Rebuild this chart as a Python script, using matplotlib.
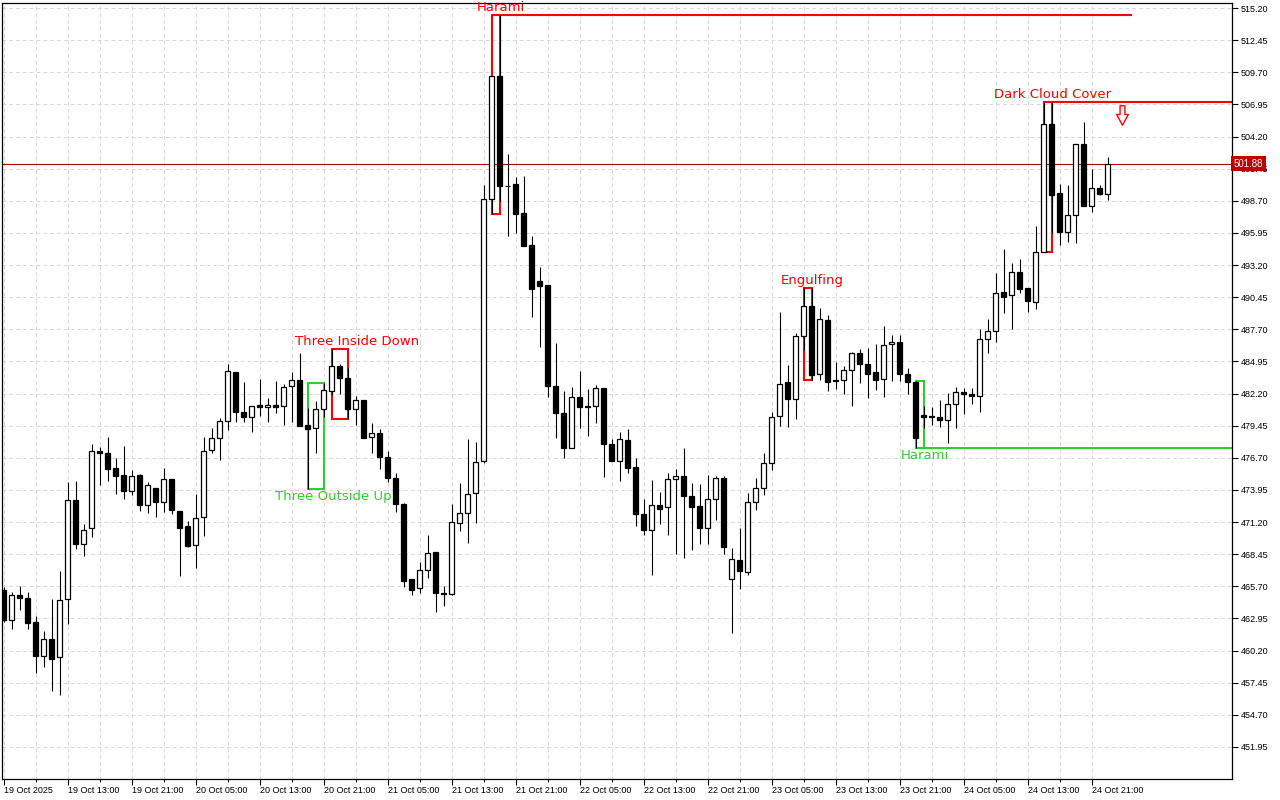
import matplotlib
matplotlib.use("Agg")
import matplotlib.pyplot as plt
import matplotlib.transforms as mtransforms
from matplotlib.patches import Rectangle
from matplotlib.path import Path
import numpy as np
import pandas as pd

# hourly candles, first bar 19 Oct 2025 05:00
start_time = "2025-10-19 05:00"

opens = [465.40, 462.83, 464.97, 464.71, 462.66, 459.75, 461.20, 459.67, 464.63, 473.10,
         469.33, 470.70, 477.29, 477.12, 475.83, 475.24, 473.87, 475.24, 472.67, 474.13,
         472.93, 474.89, 472.16, 470.87, 469.25, 471.64, 477.38, 478.41, 479.86, 484.05,
         480.63, 480.20, 481.23, 481.06, 481.23, 481.14, 482.85, 483.37, 479.52, 479.26,
         480.88, 482.43, 484.57, 483.54, 480.88, 481.66, 478.49, 478.83, 476.78, 474.98,
         472.75, 466.34, 465.57, 467.11, 468.65, 465.14, 465.08, 471.13, 471.99, 473.69,
         476.44, 498.86, 509.38, 499.97, 500.14, 497.66, 494.92, 491.84, 491.50, 482.85,
         480.55, 477.55, 481.91, 481.14, 481.14, 482.69, 477.89, 476.44, 478.23, 475.92,
         471.90, 470.53, 472.67, 472.50, 474.89, 475.15, 473.45, 472.58, 470.70, 473.19,
         474.98, 466.34, 467.97, 466.94, 472.93, 474.13, 476.27, 480.29, 483.20, 481.75,
         487.13, 489.70, 483.88, 488.50, 483.37, 483.37, 484.22, 485.68, 484.74, 484.05,
         483.45, 486.45, 486.62, 483.88, 483.20, 480.37, 480.29, 480.20, 479.94, 481.31,
         482.34, 482.17, 482.00, 486.88, 487.56, 490.90, 490.64, 492.61, 491.24, 490.05,
         494.32, 505.28, 499.37, 496.04, 497.48, 503.56, 498.26, 499.80, 499.29]

highs = [465.65, 465.23, 465.74, 465.23, 463.18, 461.89, 464.63, 467.03, 474.65, 474.73,
         471.05, 477.89, 477.64, 478.49, 476.70, 477.73, 475.66, 475.33, 474.65, 474.13,
         475.83, 474.89, 472.16, 471.31, 473.62, 478.49, 479.26, 480.11, 484.74, 484.05,
         483.20, 481.14, 483.45, 481.83, 483.28, 483.02, 484.05, 485.68, 480.97, 481.57,
         483.11, 486.02, 484.74, 484.39, 482.00, 481.66, 479.69, 479.17, 477.29, 475.41,
         472.84, 466.34, 467.80, 470.11, 468.65, 465.74, 472.75, 474.56, 478.32, 478.06,
         500.05, 509.38, 514.60, 502.69, 500.73, 500.81, 495.68, 493.03, 491.50, 486.53,
         482.43, 482.76, 484.14, 482.60, 482.94, 482.69, 478.32, 478.92, 479.17, 476.70,
         473.19, 474.81, 473.79, 475.41, 475.75, 477.55, 474.56, 474.47, 475.24, 475.15,
         475.15, 468.99, 470.70, 473.69, 474.98, 477.12, 480.63, 489.18, 484.65, 487.39,
         491.24, 491.24, 489.53, 488.92, 484.90, 484.57, 485.76, 486.02, 486.10, 486.45,
         487.98, 487.22, 487.22, 484.39, 483.28, 481.14, 481.06, 481.66, 482.25, 482.76,
         482.69, 482.69, 487.72, 488.59, 492.52, 494.58, 493.38, 493.71, 491.24, 496.54,
         507.15, 507.15, 500.13, 500.05, 503.56, 505.44, 501.42, 500.05, 502.45]

lows = [462.66, 462.05, 463.69, 462.05, 458.29, 458.81, 456.76, 456.41, 462.49, 468.91,
        468.31, 469.93, 474.39, 474.73, 473.62, 473.19, 473.53, 472.16, 471.99, 471.64,
        472.07, 471.90, 466.60, 469.08, 467.28, 470.02, 477.12, 476.53, 479.09, 479.77,
        479.77, 478.92, 480.29, 479.77, 480.55, 479.52, 479.77, 479.43, 474.04, 477.12,
        480.20, 482.08, 482.17, 480.03, 479.52, 478.41, 477.12, 475.75, 474.65, 472.07,
        465.65, 464.97, 465.14, 466.43, 463.51, 464.03, 464.97, 470.45, 469.42, 471.13,
        476.27, 497.56, 498.67, 495.68, 495.94, 494.83, 488.75, 486.19, 481.91, 478.41,
        476.70, 477.55, 479.26, 478.58, 479.69, 475.07, 476.44, 474.73, 475.41, 470.87,
        470.11, 466.69, 471.05, 470.11, 468.48, 468.14, 468.82, 469.33, 469.33, 471.39,
        468.48, 461.72, 465.49, 466.69, 472.25, 473.53, 475.66, 479.43, 479.35, 480.03,
        485.93, 483.37, 483.37, 482.43, 482.60, 482.17, 481.14, 483.11, 481.83, 482.51,
        481.91, 483.28, 483.28, 482.17, 477.55, 479.26, 479.52, 479.35, 477.97, 479.26,
        480.46, 481.31, 480.63, 485.68, 486.62, 489.10, 487.72, 490.80, 489.18, 489.44,
        494.32, 495.94, 494.92, 495.17, 495.08, 498.26, 497.74, 499.20, 498.77]

closes = [462.83, 464.97, 464.71, 462.57, 459.75, 461.20, 459.49, 464.54, 473.10, 469.33,
          470.53, 477.29, 477.12, 475.75, 475.15, 473.87, 475.15, 472.67, 474.39, 472.93,
          474.89, 472.25, 470.70, 469.17, 471.55, 477.29, 478.41, 479.86, 484.14, 480.63,
          480.20, 481.14, 481.06, 481.23, 481.06, 482.76, 483.37, 479.43, 479.17, 480.88,
          482.51, 484.57, 483.54, 480.88, 481.66, 478.41, 478.83, 476.78, 474.98, 472.75,
          466.17, 465.40, 467.11, 468.56, 465.14, 465.08, 471.22, 471.99, 473.62, 476.35,
          498.86, 509.38, 499.97, 499.94, 497.56, 494.83, 491.15, 491.41, 482.85, 480.55,
          477.55, 481.91, 481.06, 481.06, 482.69, 477.89, 476.44, 478.32, 475.83, 471.90,
          470.53, 472.67, 472.33, 474.89, 475.15, 473.45, 472.50, 470.70, 473.19, 474.98,
          469.08, 468.05, 467.03, 472.93, 474.13, 476.27, 480.20, 483.02, 481.75, 487.13,
          489.70, 483.79, 488.59, 483.20, 483.28, 484.22, 485.68, 484.74, 483.88, 483.37,
          486.36, 486.62, 483.88, 483.20, 478.41, 480.20, 480.20, 479.94, 481.31, 482.34,
          482.17, 482.00, 486.88, 487.56, 490.81, 490.47, 492.61, 491.15, 490.13, 494.32,
          505.28, 499.20, 496.04, 497.48, 503.56, 498.26, 499.80, 499.29, 501.88]

# candlestick patterns found by the indicator
pattern_names = ["Three Outside Up", "Three Inside Down", "Harami", "Engulfing", "Harami", "Dark Cloud Cover"]
pattern_first = [38, 41, 61, 100, 114, 130]
pattern_last = [40, 43, 62, 101, 115, 131]
pattern_bullish = [True, False, False, False, True, False]

# support / resistance levels drawn from some of the patterns
level_pattern = [2, 4, 5]
level_end = [141, None, None]

price_ticks = np.round(451.95 + 2.75 * np.arange(24), 2)

RED = "#ff0000"
GREEN = "#32cd32"

n = len(closes)
times = pd.date_range(start_time, periods=n, freq="h")

fig = plt.figure(figsize=(12.8, 8), dpi=100)
ax = fig.add_axes([2 / 1280, 21 / 800, 1230 / 1280, 776 / 800])
ax.set_xlim(-0.2, 153.55)
ax.set_ylim(449.21, 515.63)

# candles
for i in range(n):
    o, h, l, c = opens[i], highs[i], lows[i], closes[i]
    up = c >= o
    ax.vlines(i, l, h, color="black", lw=0.8, zorder=3)
    ax.add_patch(Rectangle((i - 0.3, min(o, c)), 0.6, abs(c - o),
                           facecolor="white" if up else "black",
                           edgecolor="black", lw=0.9, zorder=4))

# pattern boxes and labels
for k, name in enumerate(pattern_names):
    a, b = pattern_first[k], pattern_last[k]
    top = max(highs[a:b + 1])
    bot = min(lows[a:b + 1])
    col = GREEN if pattern_bullish[k] else RED
    ax.add_patch(Rectangle((a, bot), b - a, top - bot, fill=False,
                           edgecolor=col, lw=1.5, zorder=2))
    tx = b + 0.1 + (b - a - 1) * 1.1
    if pattern_bullish[k]:
        ax.annotate(name, (tx, bot), xytext=(0, -5.5), textcoords="offset points",
                    ha="center", va="center", color=col, fontsize=9.5)
    else:
        ax.annotate(name, (tx, top), xytext=(0, 5.2), textcoords="offset points",
                    ha="center", va="center", color=col, fontsize=9.5)

# level lines
for k, end in zip(level_pattern, level_end):
    a, b = pattern_first[k], pattern_last[k]
    if pattern_bullish[k]:
        lvl = min(lows[a:b + 1])
        col = GREEN
    else:
        lvl = max(highs[a:b + 1])
        col = RED
    x_end = end if end is not None else ax.get_xlim()[1]
    ax.plot([b, x_end], [lvl, lvl], color=col, lw=1.5, zorder=2, solid_capstyle="butt")

# sell arrow
arrow = Path([(-0.25, 1), (0.25, 1), (0.25, 0.1), (0.6, 0.1), (0, -1),
              (-0.6, 0.1), (-0.25, 0.1), (-0.25, 1)], closed=True)
ax.plot([n + 0.75], [506.04], marker=arrow, markersize=14, markerfacecolor="white",
        markeredgecolor=RED, markeredgewidth=1.0, zorder=5)

# current price
last = closes[-1]
ax.axhline(last, color="#b00000", lw=0.8, zorder=1)
trans = mtransforms.blended_transform_factory(ax.transAxes, ax.transData)
ax.text(1.0015, last, f"{last:.2f}", transform=trans, ha="left", va="center",
        color="white", fontsize=7, family="Liberation Sans", clip_on=False, zorder=10,
        bbox=dict(boxstyle="square,pad=0.25", fc="#c00000", ec="none"))

# axes
ax.yaxis.tick_right()
ax.set_yticks(price_ticks)
ax.set_yticklabels([f"{v:.2f}" for v in price_ticks])
major = np.arange(0, n, 8)
labels = []
for j in major:
    t = times[j]
    labels.append(t.strftime("%d %b %Y") if j == 0 else t.strftime("%d %b %H:%M"))
ax.set_xticks(major)
ax.set_xticklabels(labels, ha="left")
ax.set_xticks(np.arange(4, n, 8), minor=True)
ax.tick_params(axis="both", which="major", direction="out", length=4, width=0.8,
               labelsize=6.5, colors="black", pad=2)
ax.tick_params(axis="x", which="major", pad=1)
ax.tick_params(axis="x", which="minor", length=2, width=0.8)
for lab in ax.get_xticklabels() + ax.get_yticklabels():
    lab.set_family("Liberation Sans")

ax.grid(True, which="both", axis="x", color="#d9d9d9", lw=0.7, ls=(0, (4, 3)), zorder=0)
ax.grid(True, which="major", axis="y", color="#d9d9d9", lw=0.7, ls=(0, (4, 3)), zorder=0)
ax.set_axisbelow(True)
for s in ax.spines.values():
    s.set_linewidth(0.9)

fig.savefig("out.png", dpi=100, facecolor="white")
